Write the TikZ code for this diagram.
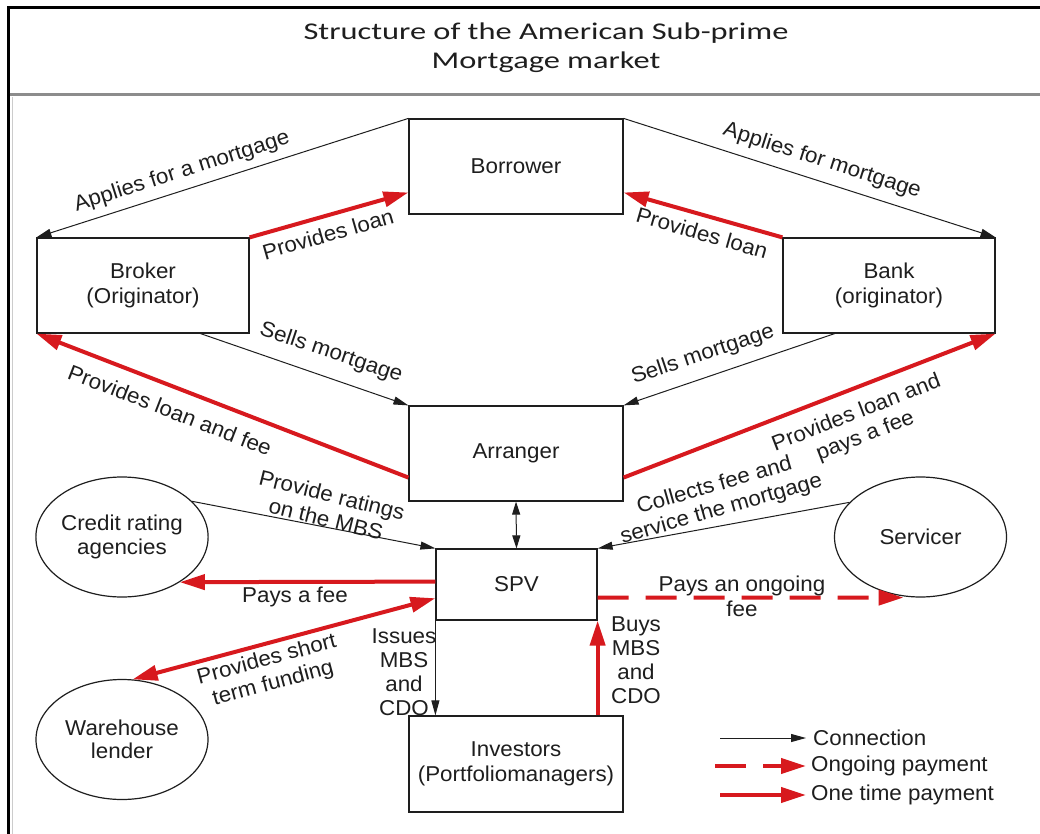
\documentclass[tikz,border=0pt]{standalone}
\usepackage{fontspec}
\setmainfont{Liberation Sans}[FakeStretch=1.04]
\newfontfamily\titlefont{Carlito}[FakeStretch=1.35]
\usetikzlibrary{arrows.meta,shapes.geometric,calc}
\definecolor{payred}{RGB}{215,25,30}
\definecolor{ink}{RGB}{30,30,30}

\begin{document}
\begin{tikzpicture}[x=1pt,y=-1pt,
  lbl/.style={font=\fontsize{21.5}{24.5}\selectfont, text=ink, inner sep=0pt, align=center},
  box/.style={draw=ink, line width=1.2pt, rectangle, inner sep=0pt, align=center,
              font=\fontsize{21.5}{25}\selectfont, text=ink},
  oval/.style={draw=ink, line width=1.2pt, ellipse, inner sep=0pt, align=center,
               minimum width=172pt, minimum height=120pt,
               font=\fontsize{21.5}{23.5}\selectfont, text=ink},
  conn/.style={draw=ink, line width=1pt, -{Triangle[length=15pt,width=8pt]}},
  twoway/.style={draw=ink, line width=1pt, {Triangle[length=13pt,width=8pt]}-{Triangle[length=13pt,width=8pt]}},
  pay/.style={draw=payred, line width=4pt, -{Triangle[length=25pt,width=15pt]}},
  paytwo/.style={draw=payred, line width=4pt, {Triangle[length=25pt,width=15pt]}-{Triangle[length=25pt,width=15pt]}},
  ongoing/.style={pay, dash pattern=on 31pt off 17pt}]

\useasboundingbox (0,0) rectangle (1040,834);
\fill[white] (0,0) rectangle (1040,834);

% frame and title band
\draw[black!20, line width=0.8pt] (12,97) -- (12,834);
\draw[black, line width=3pt] (1040,8) -- (8,8) -- (8,834);
\draw[black!45, line width=2.5pt] (9.5,94.5) -- (1040,94.5);

\node[font=\titlefont\fontsize{24}{30}\selectfont, text=ink, anchor=base, inner sep=0pt]
  (title1) at (546,39.5) {Structure of the American Sub-prime};
\node[font=\titlefont\fontsize{24}{30}\selectfont, text=ink, anchor=base, inner sep=0pt]
  (title2) at (546,69) {Mortgage market};

% participants
\node[box, minimum width=214pt, minimum height=95pt] (borrower)  at (516,166.5) {Borrower};
\node[box, minimum width=212pt, minimum height=95pt] (broker)    at (143,285.5) {Broker\\(Originator)};
\node[box, minimum width=212pt, minimum height=95pt] (bank)      at (889,285.5) {Bank\\(originator)};
\node[box, minimum width=214pt, minimum height=95pt] (arranger)  at (516,453.5) {Arranger};
\node[box, minimum width=161pt, minimum height=71pt] (spv)       at (516.5,584.5) {SPV};
\node[box, minimum width=214pt, minimum height=96pt] (investors) at (516,764) {Investors\\(Portfoliomanagers)};
\node[oval] (credit)    at (122,537)   {Credit rating\\agencies};
\node[oval] (warehouse) at (122,739.5) {Warehouse\\lender};
\node[oval] (servicer)  at (920.5,537) {Servicer};

% connections
\draw[conn] (borrower.north west) -- (broker.north west);
\draw[conn] (borrower.north east) -- (bank.north east);
\draw[conn] ($(broker.south west)!0.77!(broker.south east)$) -- (arranger.north west);
\draw[conn] ($(bank.south west)!0.245!(bank.south east)$) -- (arranger.north east);
\draw[twoway] (arranger.south) -- (spv.north);
\draw[conn] (credit.27) -- (spv.north west);
\draw[conn] (servicer.154) -- (spv.north east);
\draw[conn] (spv.south west) -- (spv.south west |- investors.north);

% one time payments
\draw[pay] (broker.north east) -- ($(borrower.south west)!0.23!(borrower.north west)$);
\draw[pay] (bank.north west) -- ($(borrower.south east)!0.23!(borrower.north east)$);
\draw[pay] ($(arranger.north west)!0.75!(arranger.south west)$) -- (broker.south west);
\draw[pay] ($(arranger.north east)!0.75!(arranger.south east)$) -- (bank.south east);
\draw[pay] ($(spv.north west)!0.46!(spv.south west)$) -- (credit.-38);
\draw[paytwo] ($(spv.north west)!0.69!(spv.south west)$) -- (warehouse.80);
\draw[pay] (investors.north -| spv.south east) -- (spv.south east);

% ongoing payment
\coordinate (feeend) at ($(servicer.south)+(-17,0)$);
\draw[ongoing] ($(spv.north east)!0.68!(spv.south east)$) -- (feeend);

% connector labels
\node[lbl, rotate=17.7]  (l1)  at (182,172) {Applies for a mortgage};
\node[lbl, rotate=-17.7] (l2)  at (822,161) {Applies for mortgage};
\node[lbl, rotate=16]    (l3)  at (328,234) {Provides loan};
\node[lbl, rotate=-16]   (l4)  at (702,233) {Provides loan};
\node[lbl, rotate=-18.5] (l5)  at (331,353) {Sells mortgage};
\node[lbl, rotate=18.5]  (l6)  at (703,355) {Sells mortgage};
\node[lbl, rotate=-21.2] (l7)  at (170,410) {Provides loan and fee};
\node[lbl, rotate=21.2]  (l8)  at (861,425) {Provides loan and\\pays a fee};
\node[lbl, rotate=-14]   (l9)  at (329,507) {Provide ratings\\on the MBS};
\node[lbl, rotate=16]    (l10) at (718,498) {Collects fee and\\service the mortgage};
\node[lbl]               (l11) at (295,597) {Pays a fee};
\node[lbl, rotate=15]    (l12) at (270,672) {Provides short\\term funding};
\node[lbl, font=\fontsize{21.5}{24}\selectfont] (l13) at (404,672) {Issues\\MBS\\and\\CDO};
\node[lbl, font=\fontsize{21.5}{24}\selectfont] (l14) at (636,660) {Buys\\MBS\\and\\CDO};
\node[lbl, font=\fontsize{21.5}{25}\selectfont] (l15) at (742,596) {Pays an ongoing\\fee};

% legend
\node[lbl, anchor=west] (key1) at (813,738) {Connection};
\node[lbl, anchor=west] (key2) at (811,766) {Ongoing payment};
\node[lbl, anchor=west] (key3) at (811,795) {One time payment};
\coordinate (key1s) at (720,738);
\coordinate (key2s) at (715,766);
\coordinate (key3s) at (720,795);
\draw[conn] (key1s) -- ($(key1.west)+(-7,0)$);
\draw[ongoing] (key2s) -- ($(key2.west)+(-5,0)$);
\draw[pay] (key3s) -- ($(key3.west)+(-5,0)$);
\end{tikzpicture}
\end{document}
